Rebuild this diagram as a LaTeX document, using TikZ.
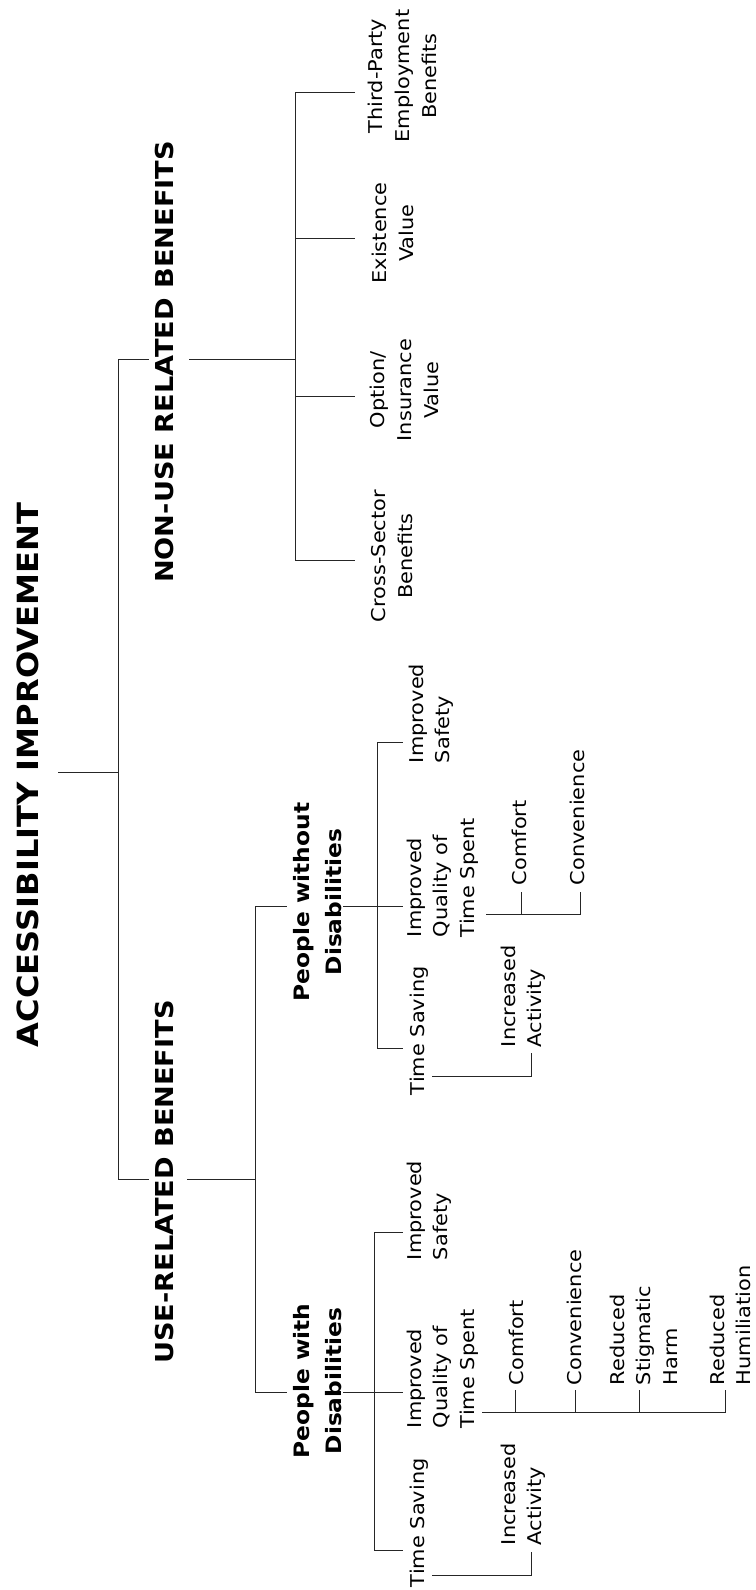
\documentclass[tikz,border=0pt]{standalone}
\usepackage{fontspec}
\setmainfont{DejaVu Sans}[FakeStretch=1.1]
\begin{document}
\begin{tikzpicture}[x=1pt,y=-1pt,
  ln/.style={line width=1pt, black!85, line cap=rect},
  lab/.style={rotate=90, inner sep=0pt, outer sep=0pt},
  labl/.style={lab, anchor=north west, align=left, font=\fontsize{19}{26.5}\selectfont},
  labc/.style={lab, anchor=north, align=center, font=\fontsize{19}{27}\selectfont},
  grp/.style={lab, anchor=north, align=center, font=\bfseries\fontsize{21.2}{32}\selectfont},
  hdr/.style={lab, anchor=north, font=\bfseries\fontsize{24.7}{30}\selectfont},
  ttl/.style={lab, anchor=north, font=\bfseries\fontsize{29.2}{35}\selectfont}]
\useasboundingbox (0,0) rectangle (755,1590);

% texts
\node[ttl] (root) at (17,775) {ACCESSIBILITY IMPROVEMENT};
\node[hdr] (nonuse) at (155,362) {NON-USE RELATED BENEFITS};
\node[hdr] (use) at (155,1182) {USE-RELATED BENEFITS};
\node[grp] (pwod) at (293,902) {People without\\Disabilities};
\node[grp] (pwd) at (293,1381) {People with\\Disabilities};
\node[labc] (tpe) at (368,76) {Third-Party\\Employment\\Benefits};
\node[labc] (ev) at (372,233) {Existence\\Value};
\node[labc] (oiv) at (370,390) {Option/\\Insurance\\Value};
\node[labc] (csb) at (371,556) {Cross-Sector\\Benefits};
\node[labl] (isA) at (409,763) {Improved\\Safety};
\node[labl] (iqA) at (407,937) {Improved\\Quality of\\Time Spent};
\node[labl] (tsA) at (410,1095) {Time Saving};
\node[labl] (coA) at (512,885) {Comfort};
\node[labl] (cvA) at (570,885) {Convenience};
\node[labl] (iaA) at (501,1047) {Increased\\Activity};
\node[labl] (isB) at (407,1260) {Improved\\Safety};
\node[labl] (iqB) at (407,1428) {Improved\\Quality of\\Time Spent};
\node[labl] (tsB) at (410,1587) {Time Saving};
\node[labl] (coB) at (509,1385) {Comfort};
\node[labl] (cvB) at (567,1385) {Convenience};
\node[labl] (rsB) at (610,1385) {Reduced\\Stigmatic\\Harm};
\node[labl] (rhB) at (710,1385) {Reduced\\Humiliation};
\node[labl] (iaB) at (501,1545) {Increased\\Activity};

% junction coordinates
\coordinate (rootE) at (58,772);
\coordinate (spine) at (118,772);
\coordinate (nuL) at (148,359);
\coordinate (nuR) at (189,359);
\coordinate (nuS) at (295,359);
\coordinate (uL) at (148,1179);
\coordinate (uR) at (187,1179);
\coordinate (uS) at (255,1179);
\coordinate (tpeE) at (354,92);
\coordinate (evE) at (354,238);
\coordinate (oivE) at (354,396);
\coordinate (csbE) at (354,560);
\coordinate (pwodL) at (286,906);
\coordinate (pwodR) at (343,906);
\coordinate (pwdL) at (286,1392);
\coordinate (pwdR) at (343,1392);
\coordinate (isAE) at (402,742);
\coordinate (iqAE) at (402,906);
\coordinate (tsAE) at (402,1048);
\coordinate (isBE) at (402,1232);
\coordinate (iqBE) at (402,1392);
\coordinate (tsBE) at (402,1550);
\coordinate (iqAb) at (486,914);
\coordinate (coAt) at (521,892);
\coordinate (cvAt) at (580,892);
\coordinate (tsAb) at (432,1076);
\coordinate (iaAt) at (531,1053);
\coordinate (iqBb) at (482,1412);
\coordinate (coBt) at (515,1390);
\coordinate (cvBt) at (575,1390);
\coordinate (rsBt) at (639,1390);
\coordinate (rhBt) at (725,1390);
\coordinate (tsBb) at (432,1575);
\coordinate (iaBt) at (531,1552);

% connectors
\draw[ln] (rootE) -- (spine);
\draw[ln] (nuL) -- (nuL -| spine) -- (uL -| spine) -- (uL);
\draw[ln] (nuR) -- (nuS);
\draw[ln] (tpeE) -- (tpeE -| nuS) -- (csbE -| nuS) -- (csbE);
\draw[ln] (evE -| nuS) -- (evE);
\draw[ln] (oivE -| nuS) -- (oivE);
\draw[ln] (uR) -- (uS);
\draw[ln] (pwodL) -- (pwodL -| uS) -- (pwdL -| uS) -- (pwdL);
\draw[ln] (pwodR) -- (iqAE);
\draw[ln] (isAE) -- (377,742) -- (377,1048) -- (tsAE);
\draw[ln] (iqAb) -- (iqAb -| cvAt) -- (cvAt);
\draw[ln] (iqAb -| coAt) -- (coAt);
\draw[ln] (tsAb) -- (tsAb -| iaAt) -- (iaAt);
\draw[ln] (pwdR) -- (iqBE);
\draw[ln] (isBE) -- (374,1232) -- (374,1550) -- (tsBE);
\draw[ln] (iqBb) -- (iqBb -| rhBt) -- (rhBt);
\draw[ln] (iqBb -| coBt) -- (coBt);
\draw[ln] (iqBb -| cvBt) -- (cvBt);
\draw[ln] (iqBb -| rsBt) -- (rsBt);
\draw[ln] (tsBb) -- (tsBb -| iaBt) -- (iaBt);
\end{tikzpicture}
\end{document}
